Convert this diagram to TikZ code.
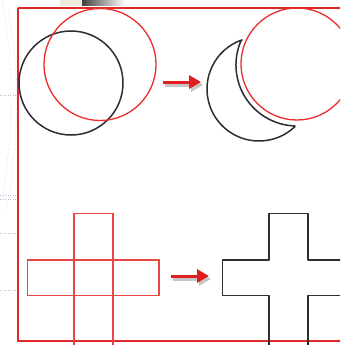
\documentclass[tikz,border=0pt]{standalone}
\usetikzlibrary{arrows.meta}
\definecolor{frameRed}{RGB}{225,40,40}
\definecolor{circRed}{RGB}{235,45,45}
\definecolor{crossRed}{RGB}{235,70,70}
\definecolor{inkBlack}{RGB}{45,45,50}
\definecolor{arrowRed}{RGB}{225,30,30}
\definecolor{faintLav}{RGB}{190,190,225}
\definecolor{barCream}{RGB}{240,236,220}
\tikzset{
  redcirc/.style={draw=circRed, line width=1.3pt},
  blackline/.style={draw=inkBlack, line width=1.5pt},
  redbox/.style={draw=crossRed, line width=1.2pt},
  conv/.style={draw=arrowRed, line width=3pt, -{Triangle[length=12pt,width=13pt]}},
  convshadow/.style={draw=gray!45, line width=3pt, -{Triangle[length=12pt,width=13pt]}},
  faint/.style={draw=faintLav, line width=0.5pt, dotted}
}
\begin{document}
\begin{tikzpicture}[x=1pt,y=-1pt]
\useasboundingbox (0,0) rectangle (340,345);
\fill[white] (0,0) rectangle (340,345);
\begin{scope}
\clip (0,0) rectangle (340,345);
% faint background decorations on the left
\draw[faint] (2,0) .. controls (14,60) and (14,130) .. (2,200);
\draw[faint] (8,10) .. controls (20,70) and (20,140) .. (6,210);
\draw[faint] (0,95) -- (17,95);
\draw[faint] (0,195) -- (17,195);
\draw[faint] (0,199) -- (17,199);
\draw[faint] (0,233) -- (17,233);
\draw[faint] (0,290) -- (17,290);
% top bar
\fill[barCream] (60,0) rectangle (82,6);
\shade[left color=black!75, right color=white] (82,0) rectangle (125,6);
% frame
\draw[frameRed, line width=1.3pt] (18,8) -- (360,8) (18,8) -- (18,341) -- (360,341);
% left pair of circles
\coordinate (bc) at (71,83);
\coordinate (rc) at (100,64.5);
\draw[blackline] (bc) circle[radius=52];
\draw[redcirc] (rc) circle[radius=56];
% arrow 1
\coordinate (a1s) at (163,82);
\coordinate (a1e) at (201,82);
\draw[convshadow] ([shift={(2,3)}]a1s) -- ([shift={(2,3)}]a1e);
\draw[conv] (a1s) -- (a1e);
% right: red circle and crescent
\coordinate (rc2) at (297,64);
\draw[redcirc] (rc2) circle[radius=56];
\coordinate (oc) at (259,89);
\draw[blackline, line join=round]
  ([shift={(251:52)}]oc) arc[start angle=251, end angle=46.5, radius=52]
  -- ([shift={(92:62)}]rc2) arc[start angle=92, end angle=203, radius=61] -- cycle;
% red cross
\draw[redbox] (74,213.5) rectangle (113,360);
\draw[redbox] (27.5,260) rectangle (159,295.5);
% arrow 2
\coordinate (a2s) at (171,276);
\coordinate (a2e) at (209,276);
\draw[convshadow] ([shift={(2,3)}]a2s) -- ([shift={(2,3)}]a2e);
\draw[conv] (a2s) -- (a2e);
% black cross outline
\draw[blackline, line join=round]
  (269,360) -- (269,295.5) -- (222.5,295.5) -- (222.5,260) -- (269,260)
  -- (269,213.5) -- (308,213.5) -- (308,260) -- (360,260)
  (360,295.5) -- (308,295.5) -- (308,360);
\end{scope}
\end{tikzpicture}
\end{document}
